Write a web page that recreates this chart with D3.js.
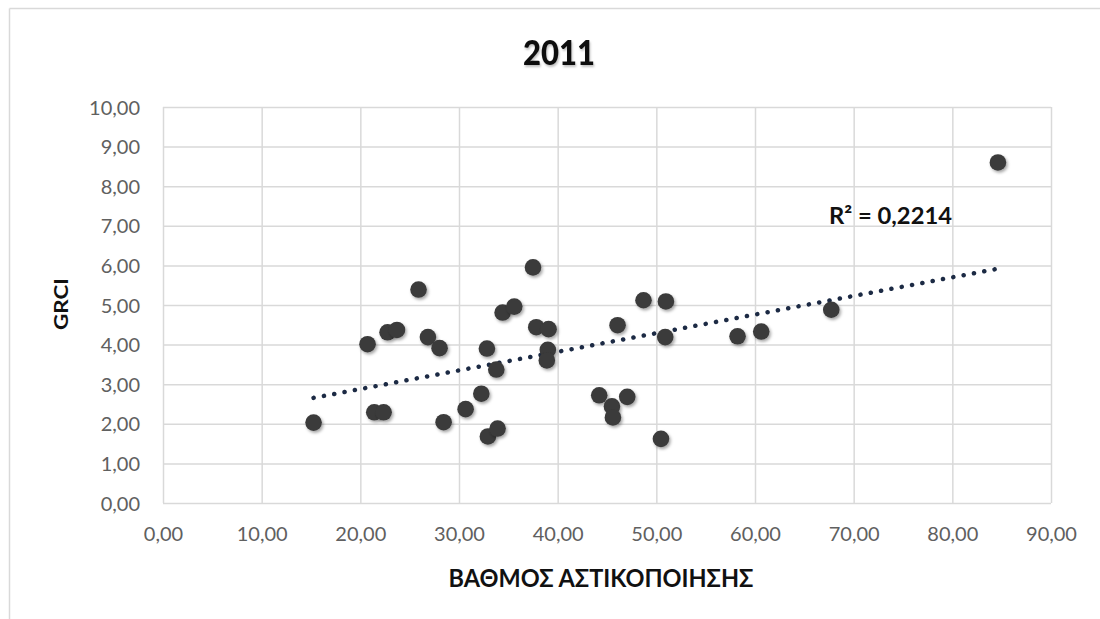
<!DOCTYPE html>
<html>
<head>
<meta charset="utf-8">
<script src="https://cdn.jsdelivr.net/npm/d3@7"></script>
<style>
  html, body { margin: 0; padding: 0; background: #ffffff; }
  svg { display: block; }
</style>
</head>
<body>
<svg id="chart" width="1100" height="619"></svg>
<script>
// ---- Data ----
const title = "2011";
const xLabel = "ΒΑΘΜΟΣ ΑΣΤΙΚΟΠΟΙΗΣΗΣ";
const yLabel = "GRCI";
const r2Label = "R² = 0,2214";
const xValues = [15.26, 20.73, 21.41, 22.36, 22.76, 23.71, 25.90, 26.85, 28.03, 28.44,
                 30.67, 32.26, 32.83, 32.93, 33.91, 33.78, 34.42, 35.60, 37.50, 37.83,
                 39.08, 39.00, 38.90, 44.21, 45.50, 45.60, 46.07, 47.05, 48.70, 50.47,
                 50.97, 50.90, 58.23, 60.63, 67.73, 84.62];
const yValues = [2.03, 4.01, 2.29, 2.29, 4.31, 4.37, 5.39, 4.19, 3.91, 2.04,
                 2.37, 2.76, 3.90, 1.68, 1.88, 3.37, 4.81, 4.96, 5.95, 4.44,
                 4.39, 3.87, 3.60, 2.72, 2.44, 2.16, 4.49, 2.68, 5.12, 1.62,
                 5.09, 4.19, 4.21, 4.33, 4.88, 8.60];
const xTicks = [0, 10, 20, 30, 40, 50, 60, 70, 80, 90];
const yTicks = [0, 1, 2, 3, 4, 5, 6, 7, 8, 9, 10];

const points = xValues.map((x, i) => ({ x, y: yValues[i] }));

// ---- Layout ----
const svg = d3.select("#chart");
const plot = { left: 163, right: 1051, top: 107, bottom: 503 };
const x = d3.scaleLinear().domain([0, 90]).range([plot.left, plot.right]);
const y = d3.scaleLinear().domain([0, 10]).range([plot.bottom, plot.top]);
const fmt = v => d3.format(".2f")(v).replace(".", ",");

const defs = svg.append("defs");
const sh = defs.append("filter").attr("id", "shadow")
  .attr("x", "-50%").attr("y", "-50%").attr("width", "200%").attr("height", "200%");
sh.append("feDropShadow").attr("dx", 1.5).attr("dy", 2).attr("stdDeviation", 1.6)
  .attr("flood-color", "#000").attr("flood-opacity", 0.35);
const tsh = defs.append("filter").attr("id", "tshadow")
  .attr("x", "-20%").attr("y", "-20%").attr("width", "140%").attr("height", "160%");
tsh.append("feDropShadow").attr("dx", 1).attr("dy", 2).attr("stdDeviation", 1.2)
  .attr("flood-color", "#000").attr("flood-opacity", 0.25);

// chart frame (top and left edges visible)
svg.append("line").attr("x1", 9.5).attr("x2", 1100).attr("y1", 8.5).attr("y2", 8.5)
  .attr("stroke", "#d9d9d9").attr("stroke-width", 1.5);
svg.append("line").attr("x1", 9.5).attr("x2", 9.5).attr("y1", 8.5).attr("y2", 619)
  .attr("stroke", "#d9d9d9").attr("stroke-width", 1.5);

// ---- Grid via axes ----
const gx = svg.append("g").attr("transform", `translate(0,${plot.bottom})`)
  .call(d3.axisBottom(x).tickValues(xTicks).tickSize(-(plot.bottom - plot.top)).tickFormat(fmt));
const gy = svg.append("g").attr("transform", `translate(${plot.left},0)`)
  .call(d3.axisLeft(y).tickValues(yTicks).tickSize(-(plot.right - plot.left)).tickFormat(fmt));
[gx, gy].forEach(g => {
  g.select(".domain").remove();
  g.selectAll(".tick line").attr("stroke", "#d9d9d9").attr("stroke-width", 1.5);
  g.selectAll(".tick text").attr("fill", "#606060")
    .style("font-family", "Lato, 'Open Sans', sans-serif").style("font-size", "20px");
});
gx.selectAll(".tick text").attr("dy", 0).attr("y", 38);
gy.selectAll(".tick text").attr("x", -23).attr("dy", "0.35em");

// ---- Trendline (least squares from the data) ----
const mx = d3.mean(xValues), my = d3.mean(yValues);
const slope = d3.sum(points, p => (p.x - mx) * (p.y - my)) / d3.sum(points, p => (p.x - mx) ** 2);
const icpt = my - slope * mx;
const [xmin, xmax] = d3.extent(xValues);
svg.append("line")
  .attr("x1", x(xmin)).attr("y1", y(icpt + slope * xmin))
  .attr("x2", x(xmax)).attr("y2", y(icpt + slope * xmax))
  .attr("stroke", "#1c2a44").attr("stroke-width", 4.5)
  .attr("stroke-linecap", "round").attr("stroke-dasharray", "0.1 10.4");

// ---- Points ----
svg.append("g").selectAll("circle").data(points).join("circle")
  .attr("cx", d => x(d.x)).attr("cy", d => y(d.y)).attr("r", 8.3)
  .attr("fill", "#3a3a3a").attr("filter", "url(#shadow)");

// ---- Texts ----
svg.append("text").text(title)
  .attr("x", 559).attr("y", 65).attr("text-anchor", "middle")
  .attr("textLength", 72).attr("lengthAdjust", "spacingAndGlyphs")
  .attr("filter", "url(#tshadow)")
  .style("font-family", "Lato, sans-serif").style("font-weight", "900").style("font-size", "35px")
  .attr("fill", "#111");

svg.append("text").text(r2Label)
  .attr("x", 829).attr("y", 224)
  .attr("textLength", 123).attr("lengthAdjust", "spacingAndGlyphs")
  .style("font-family", "Lato, sans-serif").style("font-weight", "bold").style("font-size", "23px")
  .attr("fill", "#111");

svg.append("text").text(xLabel)
  .attr("x", 601).attr("y", 587).attr("text-anchor", "middle")
  .attr("textLength", 305).attr("lengthAdjust", "spacingAndGlyphs")
  .style("font-family", "Lato, sans-serif").style("font-weight", "bold").style("font-size", "25px")
  .attr("fill", "#111");

svg.append("text").text(yLabel)
  .attr("transform", "translate(68,304) rotate(-90)").attr("text-anchor", "middle")
  .attr("textLength", 52).attr("lengthAdjust", "spacingAndGlyphs")
  .style("font-family", "Lato, sans-serif").style("font-weight", "bold").style("font-size", "19px")
  .attr("fill", "#111");
</script>
</body>
</html>
